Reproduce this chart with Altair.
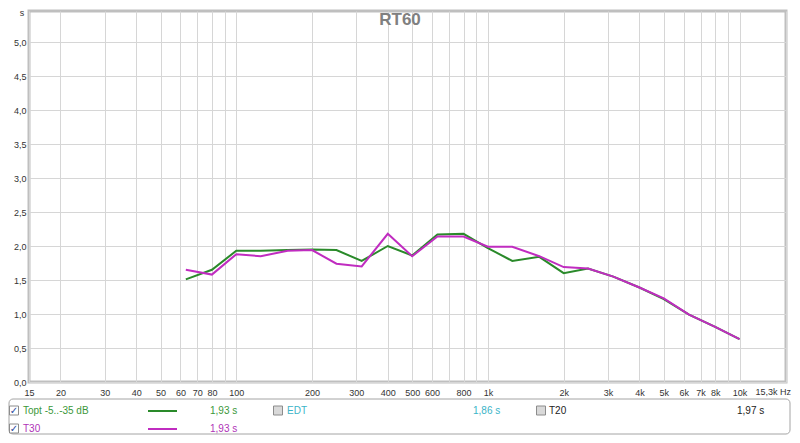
import json
import altair as alt
import pandas as pd

# ---------------- data ----------------
freqs = [63, 80, 100, 125, 160, 200, 250, 315, 400, 500, 630, 800, 1000,
         1250, 1600, 2000, 2500, 3150, 4000, 5000, 6300, 8000, 10000]
topt = [1.51, 1.65, 1.93, 1.93, 1.94, 1.95, 1.94, 1.78, 2.00, 1.86, 2.17, 2.18, 1.97,
        1.78, 1.84, 1.60, 1.67, 1.55, 1.39, 1.22, 0.99, 0.81, 0.63]
t30 = [1.65, 1.58, 1.88, 1.85, 1.93, 1.94, 1.74, 1.70, 2.18, 1.85, 2.14, 2.14, 1.99,
       1.99, 1.85, 1.69, 1.67, 1.55, 1.39, 1.23, 0.99, 0.81, 0.63]

x_ticks = [15, 20, 30, 40, 50, 60, 70, 80, 90, 100, 200, 300, 400, 500, 600, 700, 800, 900,
           1000, 2000, 3000, 4000, 5000, 6000, 7000, 8000, 9000, 10000, 15300]
x_labels = ["15", "20", "30", "40", "50", "60", "70", "80", "", "100", "200", "300", "400",
            "500", "600", "", "800", "", "1k", "2k", "3k", "4k", "5k", "6k", "7k", "8k", "",
            "10k", ""]
y_ticks = [0.0, 0.5, 1.0, 1.5, 2.0, 2.5, 3.0, 3.5, 4.0, 4.5, 5.0]

series_names = ["Topt", "T30"]
legend_names = ["Topt -5..-35 dB", "T30", "EDT", "T20"]
legend_values = ["1,93 s", "1,93 s", "1,86 s", "1,97 s"]
legend_checked = [True, True, False, False]

title_text = "RT60"
x_end_label = "15,3k Hz"
y_unit = "s"

# ---------------- styles ----------------
GREEN = "#2a8a2a"
GREEN_T = "#3a983a"
MAG = "#c02cc0"
MAG_T = "#b032b8"
TEAL = "#3ab4c8"
FONT = "Liberation Sans"
PLOT_W, PLOT_H = 757, 371

df = pd.DataFrame({
    "freq": freqs * 2,
    "rt": topt + t30,
    "series": [series_names[0]] * len(freqs) + [series_names[1]] * len(freqs),
})

x_label_expr = f"{json.dumps(x_labels)}[indexof({json.dumps(x_ticks)}, datum.value)]"

lines = alt.Chart(df).mark_line(strokeWidth=2, clip=True).encode(
    x=alt.X("freq:Q",
            scale=alt.Scale(type="log", domain=[15, 15300], nice=False),
            axis=alt.Axis(values=x_ticks, labelExpr=x_label_expr, title=None,
                          grid=True, gridColor="#d6d6d6", gridWidth=1,
                          domain=False, ticks=False, labelPadding=6,
                          labelFontSize=9, labelFont=FONT, labelColor="#333333",
                          labelOverlap=False, labelFlush=False)),
    y=alt.Y("rt:Q",
            scale=alt.Scale(domain=[0, 5.456], nice=False, zero=True),
            axis=alt.Axis(values=y_ticks,
                          labelExpr="replace(format(datum.value, '.1f'), '.', ',')",
                          title=None, grid=True, gridColor="#d6d6d6", gridWidth=1,
                          domain=False, ticks=False, labelPadding=3,
                          labelFontSize=9, labelFont=FONT, labelColor="#333333",
                          labelOverlap=False, labelFlush=False)),
    color=alt.Color("series:N", scale=alt.Scale(domain=series_names, range=[GREEN, MAG]),
                    legend=None),
    order=alt.Order("series:N", sort="descending"),
    detail="series:N",
)

one = pd.DataFrame({"k": [0]})


def txt(text, x, y, color="#222222", size=10, align="left", baseline="middle",
        weight="normal", font=FONT):
    return alt.Chart(one).mark_text(
        text=text, align=align, baseline=baseline, fontSize=size, color=color,
        fontWeight=weight, font=font,
    ).encode(x=alt.value(x), y=alt.value(y))


layers = [lines]

# title and unit texts
layers.append(txt(title_text, 371, 9, color="#808080", size=17, align="center", weight="bold"))
layers.append(txt(x_end_label, 762, 381, color="#333333", size=9, align="right"))
layers.append(txt(y_unit, -7, -2, color="#333333", size=9, align="center", baseline="top"))

# legend box
layers.append(alt.Chart(one).mark_rect(fillOpacity=0, stroke="#a4a4a4", strokeWidth=1,
                                       cornerRadius=4).encode(
    x=alt.value(-20), x2=alt.value(761), y=alt.value(388), y2=alt.value(423)))

# legend entries: (checkbox x, name x, value x, row y, colours)
entry_layout = [
    (-20, -6, 181, 399.5, GREEN_T, GREEN),
    (-20, -6, 181, 417.5, MAG_T, MAG),
    (244, 258, 444, 399.5, TEAL, None),
    (507, 520, 708, 399.5, "#222222", None),
]
for name, val, checked, (cx, nx, vx, ry, tcol, lcol) in zip(
        legend_names, legend_values, legend_checked, entry_layout):
    layers.append(alt.Chart(one).mark_rect(
        fill="#ffffff" if checked else "#d9d9d9", stroke="#8c8c8c", strokeWidth=1).encode(
        x=alt.value(cx + 0.5), x2=alt.value(cx + 9.5), y=alt.value(ry - 4.5),
        y2=alt.value(ry + 4.5)))
    if checked:
        layers.append(txt("\u2713", cx + 5, ry + 0.5, color="#2a4aa0", size=10,
                          align="center", font="DejaVu Sans"))
    layers.append(txt(name, nx, ry, color=tcol, size=10))
    layers.append(txt(val, vx, ry, color=tcol, size=10))
    if lcol:
        layers.append(alt.Chart(one).mark_rule(color=lcol, strokeWidth=2).encode(
            x=alt.value(119), x2=alt.value(148), y=alt.value(ry + 0.5)))

chart = alt.layer(*layers).properties(
    width=PLOT_W, height=PLOT_H, autosize="none",
    padding={"left": 21, "top": 3, "right": 6, "bottom": 53},
    background="#ffffff",
).configure_view(stroke="#bfbfbf", strokeWidth=3)

chart.save("out.html", embed_options={"renderer": "svg", "actions": False})
